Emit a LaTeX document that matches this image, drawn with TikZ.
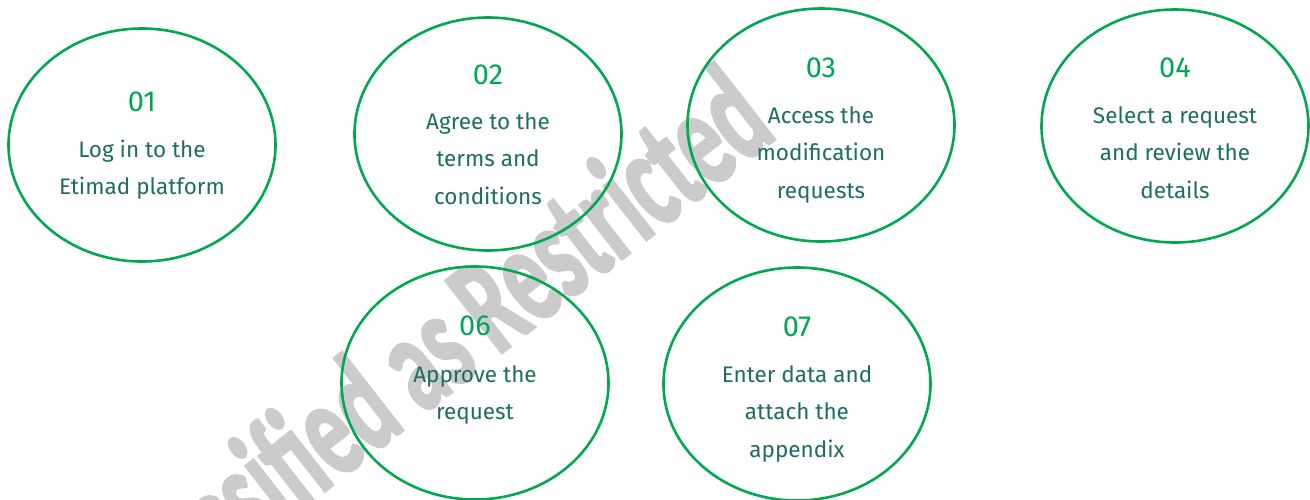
\documentclass[tikz,border=0pt]{standalone}
\usepackage{fontspec}
\setmainfont{Fira Sans}
\newfontfamily\wmfont{Carlito}[BoldFeatures={FakeBold=2.5}]
\usetikzlibrary{shapes.geometric}
\definecolor{ringgreen}{RGB}{0,168,80}
\definecolor{numgreen}{RGB}{0,166,81}
\definecolor{txtteal}{RGB}{30,108,98}
\definecolor{wmgray}{RGB}{203,203,203}
\newcommand{\txtfont}{\fontsize{22.5}{37.5}\selectfont}
\newcommand{\numfont}{\fontsize{29}{30}\selectfont}
\newcommand{\fl}{\rule{0pt}{18pt}}
\tikzset{
  stepell/.style={ellipse, draw=ringgreen, line width=2.6pt, minimum width=267pt, minimum height=233pt, inner sep=0pt},
  stepnum/.style={text=numgreen, font=\numfont, inner sep=0pt},
  steptxt/.style={text=txtteal, font=\txtfont, align=center, inner sep=0pt, anchor=north},
  wmark/.style={text=wmgray, font=\wmfont\bfseries\fontsize{140}{140}\selectfont, inner sep=0pt, anchor=base east, rotate=38, xscale=0.61}
}
\begin{document}
\begin{tikzpicture}[x=1pt,y=-1pt]
\useasboundingbox (0,0) rectangle (1310,499);
\clip (0,0) rectangle (1310,499);
% watermark
\node[wmark] (wm) at (779,136) {Classified as Restricted};
% ellipses
\node[stepell] (e1) at (142,145) {};
\node[stepell] (e2) at (488,134) {};
\node[stepell] (e3) at (821,125) {};
\node[stepell] (e4) at (1175,126) {};
\node[stepell] (e6) at (475,383) {};
\node[stepell] (e7) at (797,384) {};
% numbers
\node[stepnum] (n1) at (142,102) {01};
\node[stepnum] (n2) at (488,75) {02};
\node[stepnum] (n3) at (821,68) {03};
\node[stepnum] (n4) at (1175,68) {04};
\node[stepnum] (n6) at (475,326) {06};
\node[stepnum] (n7) at (797,327) {07};
% texts
\node[steptxt] (t1) at (142,139) {\fl Log in to the\\Etimad platform};
\node[steptxt] (t2) at (488,111) {\fl Agree to the\\terms and\\conditions};
\node[steptxt] (t3) at (821,105) {\fl Access the\\modification\\requests};
\node[steptxt] (t4) at (1175,105) {\fl Select a request\\and review the\\details};
\node[steptxt] (t6) at (475,364) {\fl Approve the\\request};
\node[steptxt] (t7) at (797,364) {\fl Enter data and\\attach the\\appendix};
\end{tikzpicture}
\end{document}
